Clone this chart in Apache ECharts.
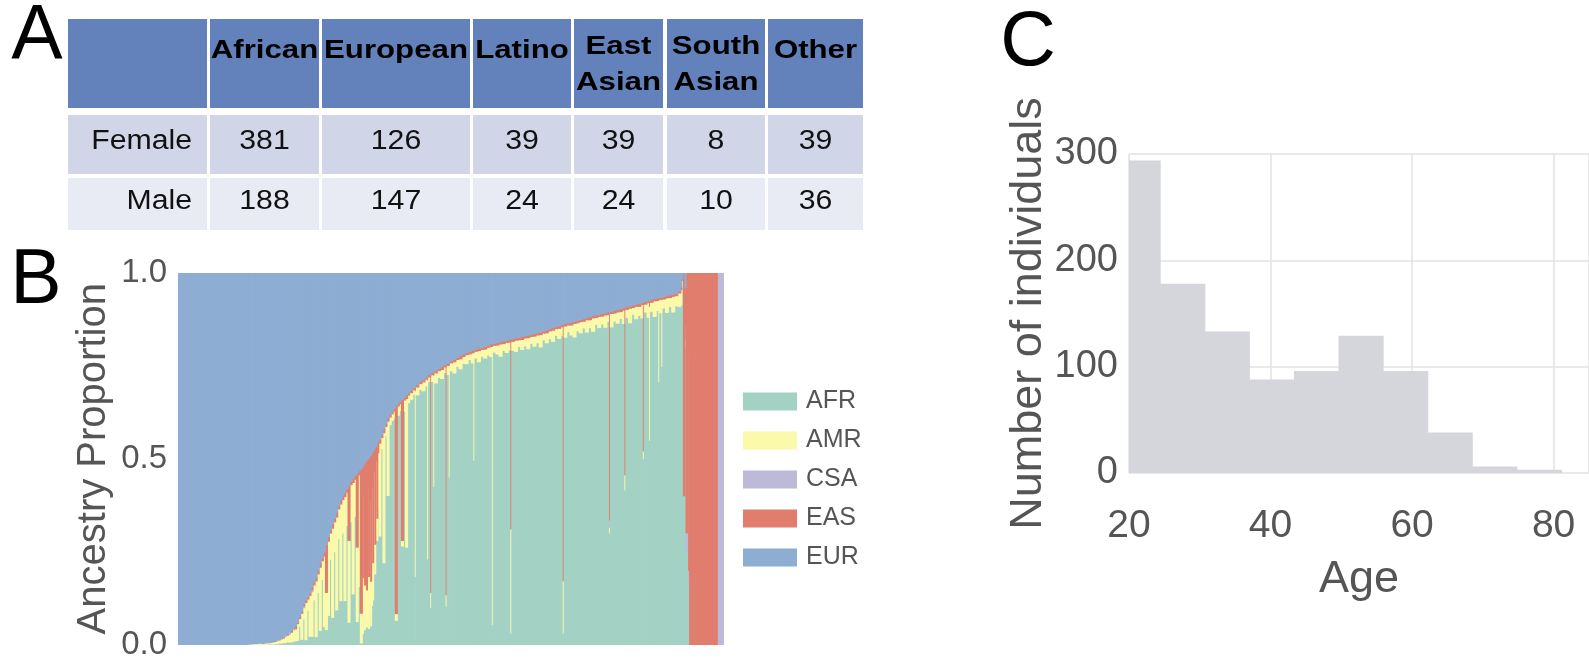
<!DOCTYPE html>
<html>
<head>
<meta charset="utf-8">
<script src="https://cdn.jsdelivr.net/npm/echarts@6/dist/echarts.min.js"></script>
<style>
  html, body { margin: 0; padding: 0; background: #fff; }
  #main { width: 1589px; height: 661px; }
</style>
</head>
<body>
<div id="main"></div>
<script>
// ---------- panel A: participants by ancestry group and sex
const tableHeaders = ['African', 'European', 'Latino', 'East Asian', 'South Asian', 'Other'];
const tableRows = ['Female', 'Male'];
const femaleCounts = [381, 126, 39, 39, 8, 39];
const maleCounts = [188, 147, 24, 24, 10, 36];

// ---------- panel B: ancestry proportions, individuals sorted, grouped in small runs
// ancSize = number of individuals in the run, other arrays = proportion of each component
// (AFR is what is left after the other four)
const ancNames = ['AFR', 'AMR', 'CSA', 'EAS', 'EUR'];
const ancSize = [
  134,
  4,4,4,4,4,4,4,4,
  4,4,4,4,4,4,4,4,
  4,4,4,4,4,4,4,4,
  // admixed / latino part
  4,4,4,4,4,4,4,4,
  4,4,4,4,4,4,4,4,
  4,4,4,4,4,4,4,4,
  4,4,4,4,4,4,4,4,
  // orange band
  2,2,2,2,2,2,2,2,
  2,2,2,2,2,2,2,2,
  4,4,4,4,4,4,4,4,
  4,4,4,4,4,4,4,
  // mostly african part
  6,5,1,6,6,6,5,1,5,1,
  5,1,6,6,6,5,1,5,1,6,
  6,6,6,6,6,6,5,1,6,6,
  6,6,6,5,1,6,6,6,6,6,
  5,1,6,6,6,6,6,6,6,6,
  6,6,6,6,6,6,6,6,5,1,
  6,6,6,6,6,6,6,6,6,6,
  6,6,6,6,5,1,6,6,6,6,
  5,1,6,6,6,6,6,5,1,6,
  5,1,6,6,5,1,5,1,6,6,
  6,6,6,6,
  // end: transition, east asian block, south asian block
  2,2,1,3,2,3,2,2,54,12
];
const ancEUR = [
  1,
  .999,.998,.998,.997,.997,.996,.996,.996,
  .995,.995,.994,.993,.992,.990,.988,.986,
  .983,.980,.975,.971,.967,.962,.956,.950,

  .940,.925,.910,.890,.880,.870,.860,.845,
  .830,.820,.800,.780,.765,.750,.730,.710,
  .690,.675,.660,.645,.625,.610,.600,.590,
  .580,.570,.560,.552,.545,.538,.532,.526,

  .520,.515,.510,.506,.503,.500,.497,.493,
  .490,.485,.480,.475,.470,.465,.460,.454,
  .448,.435,.420,.405,.390,.380,.372,.364,
  .357,.350,.345,.340,.334,.328,.322,

  .315,.308,.308,.300,.292,.286,.280,.280,.274,.274,
  .268,.268,.262,.257,.252,.247,.247,.242,.242,.236,
  .232,.227,.222,.218,.214,.211,.208,.208,.205,.202,
  .200,.197,.194,.191,.191,.189,.187,.185,.183,.181,
  .179,.179,.177,.175,.173,.171,.169,.167,.165,.163,
  .161,.159,.156,.153,.150,.147,.144,.142,.139,.139,
  .136,.134,.132,.130,.127,.125,.123,.120,.118,.115,
  .113,.111,.109,.107,.105,.105,.103,.101,.099,.096,
  .094,.094,.091,.089,.086,.084,.082,.079,.079,.077,
  .074,.072,.072,.069,.067,.067,.065,.065,.063,.061,
  .059,.057,.054,.048,

  .035,.015,0,0,.040,0,0,0,0,0
];
const ancAMR = [
  0,
  .001,.001,.002,.002,.002,.002,.003,.002,
  .003,.004,.003,.004,.005,.006,.008,.008,
  .010,.012,.016,.018,.020,.026,.030,.032,

  .045,.020,.070,.030,.100,.030,.110,.120,
  .040,.150,.050,.170,.050,.190,.100,.200,
  .070,.240,.080,.250,.080,.260,.090,.280,
  .090,.220,.100,.300,.100,.200,.300,.080,

  .150,.340,.120,.330,.100,.350,.140,.300,
  .120,.320,.100,.250,.080,.200,.060,.150,
  .250,.030,.350,.025,.200,.020,.018,.020,
  .018,.025,.018,.015,.030,.400,.020,

  .018,.012,.500,.021,.015,.024,.018,.480,.012,.040,
  .018,.300,.027,.018,.024,.015,.030,.024,.300,.021,
  .030,.018,.027,.018,.024,.015,.027,.290,.018,.030,
  .018,.024,.021,.027,.750,.018,.024,.033,.018,.027,
  .021,.280,.024,.030,.018,.027,.021,.030,.018,.027,
  .021,.033,.018,.027,.021,.030,.018,.027,.024,.140,
  .030,.018,.027,.036,.021,.030,.018,.033,.021,.036,
  .018,.030,.021,.033,.018,.015,.036,.021,.030,.018,
  .036,.040,.021,.039,.018,.033,.024,.036,.021,.021,
  .039,.360,.024,.042,.027,.220,.036,.180,.024,.039,
  .024,.042,.027,.036,

  .040,.020,0,0,.020,0,0,0,0,0
];
const ancCSA = [
  0,
  0,.001,0,.001,0,.001,0,0,
  .001,0,.002,0,.002,0,.002,0,
  .003,0,.004,0,.006,0,.005,0,

  0,0,0,.005,0,0,0,.005,
  0,0,0,0,0,0,0,0,
  0,0,0,0,0,0,0,0,
  0,0,0,0,0,0,0,0,

  0,0,0,0,0,0,0,0,
  0,0,0,0,0,0,0,0,
  0,0,0,0,0,0,0,0,
  0,0,0,0,0,0,0,

  0,0,0,0,0,0,0,0,0,0,
  0,0,0,0,0,0,0,0,0,0,
  0,0,0,0,0,0,0,0,0,0,
  0,0,0,0,0,0,0,0,0,0,
  0,0,0,0,0,0,0,0,0,0,
  0,0,0,0,0,0,0,0,0,0,
  0,0,0,0,0,0,0,0,0,0,
  0,0,0,0,0,.020,0,0,0,0,
  0,0,0,0,0,0,0,0,0,0,
  0,0,0,0,0,0,0,0,0,0,
  0,0,0,0,

  0,0,0,0,.040,.050,.040,.030,0,1
];
const ancEAS = [
  0,
  0,0,0,0,0,0,0,.001,
  0,0,0,.001,0,.002,0,.002,
  0,.003,0,.004,0,.005,0,.008,

  .004,.005,.006,.006,.007,.008,.008,.008,
  .010,.009,.010,.012,.010,.012,.130,.012,
  .010,.012,.010,.012,.010,.012,.010,.012,
  .010,.150,.010,.012,.010,.200,.012,.390,

  .300,.080,.330,.100,.350,.080,.320,.120,
  .340,.090,.300,.060,.260,.040,.200,.030,
  .010,.008,.010,.008,.009,.008,.007,.008,
  .560,.008,.007,.380,.008,.010,.007,

  .007,.006,.009,.007,.006,.007,.006,.009,.006,.586,
  .006,.007,.007,.006,.008,.006,.620,.007,.007,.006,
  .007,.006,.009,.007,.006,.007,.007,.006,.006,.007,
  .006,.008,.006,.007,.006,.006,.007,.006,.007,.006,
  .007,.510,.007,.006,.007,.008,.006,.007,.006,.007,
  .006,.007,.006,.008,.006,.007,.006,.007,.006,.690,
  .007,.006,.008,.006,.007,.006,.007,.006,.008,.006,
  .007,.006,.007,.006,.007,.560,.006,.007,.006,.008,
  .006,.450,.007,.006,.007,.006,.008,.006,.400,.007,
  .006,.018,.007,.006,.007,.006,.006,.007,.007,.006,
  .007,.006,.007,.006,

  .010,.005,0,.600,.100,.700,.200,.800,1,0
];

// ---------- panel C: age histogram
const ageEdges = [18.1, 24.4, 30.7, 37.0, 43.3, 49.6, 55.9, 62.2, 68.5, 74.8, 81.1];
const ageCounts = [294, 178, 133, 88, 96, 129, 96, 38, 6, 3];

const FONT = '"Liberation Sans", Arial, sans-serif';
const ancColors = { AFR: '#a3d2c5', AMR: '#fafaaa', CSA: '#bdbad9', EAS: '#e07d6d', EUR: '#8eadd3' };

// cumulative start of every run
const starts = [];
let total = 0;
ancSize.forEach(s => { starts.push(total); total += s; });
const ancAFR = ancEUR.map((e, i) => Math.max(0, +(1 - e - ancAMR[i] - ancCSA[i] - ancEAS[i]).toFixed(4)));
const parts = { AFR: ancAFR, AMR: ancAMR, CSA: ancCSA, EAS: ancEAS, EUR: ancEUR };

function renderStack(params, api) {
  const p0 = api.coord([api.value(0), api.value(3)]);
  const p1 = api.coord([api.value(1), api.value(2)]);
  const w = p1[0] - p0[0];
  // small overlap so neighbouring runs do not leave hairline gaps
  const extra = w < 1 ? 0.4 : 1;
  return {
    type: 'rect',
    shape: { x: p0[0], y: p0[1], width: w + extra, height: p1[1] - p0[1] + 0.5 },
    style: { fill: api.visual('color') }
  };
}

const ancSeries = ancNames.map((name, c) => {
  const data = [];
  ancSize.forEach((s, i) => {
    let base = 0;
    for (let j = 0; j < c; j++) base += parts[ancNames[j]][i];
    const v = parts[name][i];
    if (v > 0) data.push([starts[i], starts[i] + s, base, Math.min(1, base + v)]);
  });
  return {
    type: 'custom',
    name: name,
    xAxisIndex: 0,
    yAxisIndex: 0,
    silent: true,
    itemStyle: { color: ancColors[name] },
    encode: { x: [0, 1], y: [2, 3] },
    renderItem: renderStack,
    data: data
  };
});

const histSeries = {
  type: 'custom',
  xAxisIndex: 1,
  yAxisIndex: 1,
  silent: true,
  itemStyle: { color: '#d5d6dc' },
  encode: { x: [0, 1], y: 2 },
  data: ageCounts.map((c, i) => [ageEdges[i], ageEdges[i + 1], c]),
  renderItem: (params, api) => {
    const p0 = api.coord([api.value(0), api.value(2)]);
    const p1 = api.coord([api.value(1), 0]);
    const left = Math.max(p0[0], params.coordSys.x);
    return {
      type: 'rect',
      shape: { x: left, y: p0[1], width: p1[0] - left + 0.6, height: p1[1] - p0[1] },
      style: { fill: api.visual('color') }
    };
  }
};

// ---------- table (panel A) drawn as graphic elements
const colEdges = [[68, 207], [210, 319], [322, 470], [473, 571], [574, 663], [667, 765], [768, 863]];
const rowEdges = [[19, 108], [115, 174], [178, 230]];
const rowFill = ['#6381ba', '#d0d6e7', '#e8ebf3'];
const tableEls = [];
rowEdges.forEach((r, ri) => {
  colEdges.forEach(cEdge => {
    tableEls.push({
      type: 'rect',
      shape: { x: cEdge[0], y: r[0], width: cEdge[1] - cEdge[0], height: r[1] - r[0] },
      style: { fill: rowFill[ri] }
    });
  });
});
tableHeaders.forEach((h, i) => {
  const cEdge = colEdges[i + 1];
  const cx = (cEdge[0] + cEdge[1]) / 2;
  const lines = h.split(' ');
  const ys = lines.length > 1 ? [47, 83] : [51];
  lines.forEach((ln, k) => {
    tableEls.push({
      type: 'text', x: cx, y: ys[k], scaleX: 1.2,
      style: { text: ln, font: 'bold 26px ' + FONT, textAlign: 'center', textVerticalAlign: 'middle', fill: '#000' }
    });
  });
});
[femaleCounts, maleCounts].forEach((vals, ri) => {
  const cy = ri === 0 ? 142 : 202;
  tableEls.push({
    type: 'text', x: 192, y: cy, scaleX: 1.12,
    style: { text: tableRows[ri], font: '27px ' + FONT, textAlign: 'right', textVerticalAlign: 'middle', fill: '#111' }
  });
  vals.forEach((v, i) => {
    const cEdge = colEdges[i + 1];
    tableEls.push({
      type: 'text', x: (cEdge[0] + cEdge[1]) / 2, y: cy, scaleX: 1.12,
      style: { text: String(v), font: '27px ' + FONT, textAlign: 'center', textVerticalAlign: 'middle', fill: '#111' }
    });
  });
});

const panelLetters = [['A', 37, 38], ['B', 36, 282], ['C', 1028, 44]].map(p => ({
  type: 'text', x: p[1], y: p[2],
  style: { text: p[0], font: '77px ' + FONT, textAlign: 'center', textVerticalAlign: 'middle', fill: '#000' }
}));

const chart = echarts.init(document.getElementById('main'));
chart.setOption({
  backgroundColor: '#fff',
  animation: false,
  textStyle: { fontFamily: FONT },
  legend: {
    data: ancNames,
    orient: 'vertical',
    left: 738,
    top: 384,
    itemWidth: 54,
    itemHeight: 18,
    itemGap: 14,
    icon: 'rect',
    selectedMode: false,
    textStyle: { fontSize: 25, color: '#555', padding: [0, 0, 0, 4] }
  },
  grid: [
    { left: 178, top: 273, width: 545, height: 374 },
    { left: 1129, top: 154, right: 0, bottom: 188 }
  ],
  xAxis: [
    { gridIndex: 0, type: 'value', min: 0, max: total, show: false },
    {
      gridIndex: 1, type: 'value', min: 20, max: 85, interval: 20,
      name: 'Age', nameLocation: 'middle', nameGap: 84,
      nameTextStyle: { fontSize: 45, color: '#555' },
      axisLine: { show: false }, axisTick: { show: false },
      axisLabel: { fontSize: 39, color: '#555', margin: 34, showMaxLabel: false },
      splitLine: { show: true, lineStyle: { color: '#e2e2e2', width: 1.5 } }
    }
  ],
  yAxis: [
    {
      gridIndex: 0, type: 'value', min: 0, max: 1, interval: 0.5,
      name: 'Ancestry Proportion', nameLocation: 'middle', nameGap: 64,
      nameTextStyle: { fontSize: 40, color: '#555' },
      axisLine: { show: false }, axisTick: { show: false }, splitLine: { show: false },
      axisLabel: { fontSize: 33, color: '#555', margin: 11, formatter: v => v.toFixed(1) }
    },
    {
      gridIndex: 1, type: 'value', min: 0, max: 300, interval: 100,
      name: 'Number of individuals', nameLocation: 'middle', nameGap: 78,
      nameTextStyle: { fontSize: 45, color: '#555' },
      axisLine: { show: false }, axisTick: { show: false },
      axisLabel: { fontSize: 38, color: '#555', margin: 11 },
      splitLine: { show: true, lineStyle: { color: '#e2e2e2', width: 1.5 } }
    }
  ],
  graphic: tableEls.concat(panelLetters),
  series: ancSeries.concat([histSeries])
});
</script>
</body>
</html>
